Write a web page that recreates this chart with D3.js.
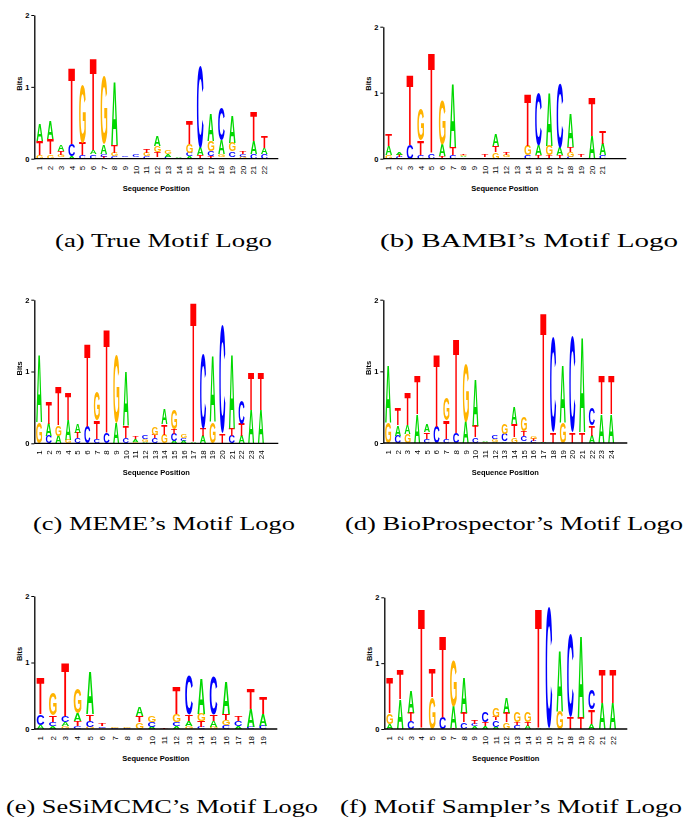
<!DOCTYPE html>
<html>
<head>
<meta charset="utf-8">
<script src="https://cdn.jsdelivr.net/npm/d3@7"></script>
<style>
  body { margin: 0; background: #fff; }
</style>
</head>
<body>
<svg id="fig"></svg>
<script>
// motif logos: each position is a stack of [base, bits], bottom to top
var logoTrue = [
  [["G",.05],["T",.19],["A",.23]],
  [["G",.06],["T",.21],["A",.25]],
  [["C",.02],["G",.03],["T",.06],["A",.08]],
  [["A",.03],["C",.17],["T",1.06]],
  [["C",.05],["T",.17],["G",.81]],
  [["C",.06],["A",.06],["T",1.29]],
  [["T",.03],["C",.04],["A",.13],["G",.95]],
  [["C",.03],["G",.05],["T",.11],["A",.88]],
  [["G",.02],["C",.02]],
  [["G",.02],["C",.03]],
  [["C",.03],["G",.05],["T",.05]],
  [["C",.02],["T",.07],["G",.09],["A",.15]],
  [["C",.03],["A",.04],["G",.06]],
  [["G",.01],["A",.02]],
  [["A",.03],["C",.05],["G",.12],["T",.33]],
  [["T",.05],["A",.1],["C",1.14]],
  [["T",.03],["C",.07],["G",.15],["A",.38]],
  [["T",.02],["G",.04],["A",.2],["C",.46]],
  [["T",.02],["C",.08],["G",.12],["A",.38]],
  [["G",.03],["C",.04],["T",.03]],
  [["C",.07],["A",.18],["T",.41]],
  [["C",.07],["A",.08],["T",.16]]
];

var logoBambi = [
  [["G",.06],["A",.14],["T",.17]],
  [["C",.03],["T",.03],["A",.04]],
  [["C",.21],["T",1.06]],
  [["C",.05],["T",.22],["G",.48]],
  [["C",.08],["T",1.52]],
  [["T",.04],["A",.18],["G",.68]],
  [["C",.06],["T",.12],["A",.96]],
  [["C",.02],["A",.02],["G",.02],["T",.02]],
  [],
  [["C",.02],["T",.03]],
  [["G",.1],["T",.1],["A",.18]],
  [["C",.02],["G",.03],["T",.03]],
  [],
  [["C",.05],["G",.15],["T",.79]],
  [["T",.05],["A",.15],["C",.8]],
  [["T",.05],["G",.15],["A",.8]],
  [["T",.05],["A",.12],["C",.97]],
  [["C",.03],["G",.07],["T",.08],["A",.52]],
  [["C",.02],["T",.03]],
  [["A",.35],["T",.58]],
  [["C",.05],["A",.17],["T",.2]]
];

var logoMeme = [
  [["G",.29],["A",.94]],
  [["C",.1],["A",.17],["T",.31]],
  [["A",.1],["G",.15],["T",.55]],
  [["G",.05],["A",.28],["T",.37]],
  [["C",.07],["T",.08],["A",.12]],
  [["C",.23],["T",1.15]],
  [["C",.06],["T",.26],["G",.4]],
  [["C",.15],["T",1.45]],
  [["A",.29],["G",.95]],
  [["C",.08],["T",.16],["A",.76]],
  [["G",.02],["A",.04],["T",.04]],
  [["A",.02],["G",.04],["C",.06]],
  [["C",.07],["T",.05],["G",.11]],
  [["G",.12],["T",.15],["A",.21]],
  [["A",.03],["C",.1],["T",.07],["G",.27]],
  [["A",.03],["C",.04],["G",.06]],
  [["A",.02],["T",1.96]],
  [["A",.1],["T",.1],["C",1.05]],
  [["G",.3],["A",.93]],
  [["T",.13],["C",1.51]],
  [["C",.1],["T",.1],["A",1.03]],
  [["A",.1],["T",.17],["C",.32]],
  [["A",.47],["T",.53]],
  [["A",.47],["T",.53]]
];

var logoBioPro = [
  [["G",.3],["A",.8]],
  [["C",.1],["A",.15],["T",.24]],
  [["G",.12],["A",.13],["T",.45]],
  [["A",.4],["T",.54]],
  [["C",.06],["T",.09],["A",.11]],
  [["C",.23],["T",1.01]],
  [["C",.06],["T",.25],["G",.31]],
  [["C",.14],["T",1.32]],
  [["A",.3],["G",.8]],
  [["C",.08],["T",.16],["A",.66]],
  [["G",.02],["A",.02]],
  [["A",.02],["G",.04],["C",.05]],
  [["A",.02],["C",.1],["G",.14]],
  [["G",.08],["T",.18],["A",.24]],
  [["A",.02],["C",.08],["T",.07],["G",.2]],
  [["C",.03],["T",.03],["G",.04]],
  [["A",.02],["T",1.81]],
  [["T",.15],["C",1.33]],
  [["G",.3],["A",.8]],
  [["T",.15],["C",1.34]],
  [["T",.15],["A",1.32]],
  [["A",.1],["T",.15],["C",.24]],
  [["A",.4],["T",.54]],
  [["A",.4],["T",.54]]
];

var logoSesi = [
  [["A",.06],["C",.16],["T",.55]],
  [["A",.04],["C",.06],["T",.1],["G",.34]],
  [["G",.04],["A",.06],["C",.1],["T",.8]],
  [["C",.04],["T",.08],["A",.11],["G",.38]],
  [["G",.03],["C",.09],["T",.1],["A",.65]],
  [["G",.02],["C",.02],["T",.03]],
  [["C",.01],["G",.01]],
  [["C",.02],["G",.02]],
  [["G",.1],["T",.1],["A",.14]],
  [["A",.03],["C",.07],["G",.1]],
  [["T",.02]],
  [["A",.04],["C",.06],["G",.12],["T",.4]],
  [["G",.04],["A",.08],["T",.09],["C",.59]],
  [["C",.03],["T",.09],["G",.11],["A",.52]],
  [["G",.03],["A",.09],["T",.1],["C",.58]],
  [["C",.06],["G",.07],["T",.09],["A",.48]],
  [["A",.04],["C",.08],["T",.07]],
  [["C",.03],["A",.27],["T",.31]],
  [["C",.05],["A",.18],["T",.26]]
];

var logoSampler = [
  [["A",.08],["G",.16],["T",.54]],
  [["A",.45],["T",.45]],
  [["C",.12],["T",.13],["A",.33]],
  [["A",.02],["T",1.82]],
  [["G",.48],["T",.44]],
  [["C",.17],["T",1.25]],
  [["T",.01],["A",.33],["G",.7]],
  [["C",.1],["T",.15],["A",.54]],
  [["A",.04],["C",.03],["T",.05]],
  [["A",.04],["T",.06],["C",.16]],
  [["A",.03],["C",.1],["T",.05],["G",.14]],
  [["G",.1],["T",.15],["A",.23]],
  [["C",.06],["T",.04],["G",.16]],
  [["A",.05],["T",.05],["G",.16]],
  [["A",.02],["T",1.82]],
  [["A",.02],["C",1.85]],
  [["G",.27],["A",.93]],
  [["T",.18],["C",1.25]],
  [["T",.17],["A",1.25]],
  [["A",.08],["T",.22],["C",.29]],
  [["A",.4],["T",.52]],
  [["A",.4],["T",.52]]
];

var captions = [
  "(a) True Motif Logo",
  "(b) BAMBI\u2019s Motif Logo",
  "(c) MEME\u2019s Motif Logo",
  "(d) BioProspector\u2019s Motif Logo",
  "(e) SeSiMCMC\u2019s Motif Logo",
  "(f) Motif Sampler\u2019s Motif Logo"
];
var bitTicks = [0, 1, 2];

var baseColor = { A: "#00d800", C: "#0000ff", G: "#ffb300", T: "#ff0000" };

// layout of the six panels (pixel positions)
var panels = [
  { data: logoTrue,    ox: 34.3,  y0: 158.7, y2: 15,    step: 10.7,  len: 244, cx: 163.5, cy: 247, cw: 217 },
  { data: logoBambi,   ox: 383.3, y0: 158.7, y2: 26.7,  step: 10.7,  len: 243, cx: 529,   cy: 247, cw: 298 },
  { data: logoMeme,    ox: 34.3,  y0: 443.3, y2: 299.7, step: 9.64,  len: 244, cx: 164,   cy: 530, cw: 262 },
  { data: logoBioPro,  ox: 383.3, y0: 443,   y2: 299.7, step: 9.7,   len: 244, cx: 514,   cy: 530, cw: 338 },
  { data: logoSesi,    ox: 34.3,  y0: 729,   y2: 596,   step: 12.37, len: 243, cx: 162,   cy: 813, cw: 312 },
  { data: logoSampler, ox: 384.3, y0: 729,   y2: 597.3, step: 10.63, len: 243, cx: 511,   cy: 813, cw: 342 }
];

var W = 685, H = 824;
var sans = "'Liberation Sans', Arial, sans-serif";

var svg = d3.select("#fig").attr("width", W).attr("height", H);
svg.append("rect").attr("width", W).attr("height", H).attr("fill", "#fff");

// a do-nothing filter: letters drawn through it get plain grey anti-aliasing
svg.append("defs").append("filter")
  .attr("id", "flat")
  .attr("x", "-5%").attr("y", "-5%").attr("width", "110%").attr("height", "110%")
  .append("feOffset").attr("dx", 0).attr("dy", 0);

// ink box of each glyph so the letters can be stretched to fill their cell
var ctx = document.createElement("canvas").getContext("2d");
ctx.font = "bold 100px " + sans;
var ink = {};
"ACGT".split("").forEach(function (L) {
  var m = ctx.measureText(L);
  ink[L] = { l: m.actualBoundingBoxLeft, r: m.actualBoundingBoxRight,
             a: m.actualBoundingBoxAscent, d: m.actualBoundingBoxDescent };
});

panels.forEach(function (p, pi) {
  var n = p.data.length;
  var positions = d3.range(1, n + 1);

  var x = d3.scaleBand()
    .domain(positions)
    .range([p.ox, p.ox + n * p.step])
    .paddingInner(0.38)
    .paddingOuter(0.19);

  var y = d3.scaleLinear()
    .domain([0, 2])
    .range([p.y0, p.y2]);

  var g = svg.append("g");

  // turn each stack into letter boxes
  var letters = [];
  p.data.forEach(function (stack, i) {
    var base = 0;
    stack.forEach(function (s) {
      letters.push({ pos: i + 1, base: s[0], lo: base, hi: base + s[1] });
      base += s[1];
    });
  });

  g.append("g")
    .attr("filter", "url(#flat)")
    .selectAll("text")
    .data(letters)
    .enter()
    .append("text")
    .text(function (d) { return d.base; })
    .attr("font-family", sans)
    .attr("font-weight", "bold")
    .attr("font-size", 100)
    .attr("fill", function (d) { return baseColor[d.base]; })
    .attr("transform", function (d) {
      var k = ink[d.base];
      var sx = x.bandwidth() / (k.l + k.r);
      var sy = (y(d.lo) - y(d.hi)) / (k.a + k.d);
      return "translate(" + x(d.pos) + "," + y(d.hi) + ") scale(" + sx + "," + sy +
             ") translate(" + k.l + "," + k.a + ")";
    });

  // y axis
  var ya = g.append("g")
    .attr("transform", "translate(" + p.ox + ",0)")
    .call(d3.axisLeft(y).tickValues(bitTicks).tickFormat(d3.format("d"))
      .tickSize(3).tickSizeOuter(0).tickPadding(2));
  ya.select(".domain").attr("stroke-width", 1.3);
  ya.selectAll("text").attr("font-family", sans).attr("font-size", 7.5).attr("font-weight", "bold");

  // x axis: position numbers rotated, long base line
  var xa = g.append("g")
    .attr("transform", "translate(0," + p.y0 + ")")
    .call(d3.axisBottom(x).tickSize(0));
  xa.select(".domain").remove();
  xa.selectAll("text")
    .attr("font-family", sans)
    .attr("font-size", 8)
    .attr("transform", "rotate(-90)")
    .attr("text-anchor", "end")
    .attr("x", -7)
    .attr("y", 0)
    .attr("dy", "0.35em");

  g.append("line")
    .attr("x1", p.ox).attr("x2", p.ox + p.len)
    .attr("y1", p.y0).attr("y2", p.y0)
    .attr("stroke", "#000").attr("stroke-width", 1.3);

  g.append("text")
    .attr("x", p.ox + p.len / 2)
    .attr("y", p.y0 + 32)
    .attr("text-anchor", "middle")
    .attr("font-family", sans)
    .attr("font-weight", "bold")
    .attr("font-size", 7.5)
    .text("Sequence Position");

  g.append("text")
    .attr("transform", "translate(" + (p.ox - 12) + "," + (p.y0 - 75) + ") rotate(-90)")
    .attr("text-anchor", "middle")
    .attr("font-family", sans)
    .attr("font-weight", "bold")
    .attr("font-size", 7.5)
    .text("Bits");

  // caption under the logo
  svg.append("text")
    .attr("x", p.cx)
    .attr("y", p.cy)
    .attr("text-anchor", "middle")
    .attr("font-family", "'Liberation Serif', 'Times New Roman', serif")
    .attr("font-size", 18.5)
    .attr("textLength", p.cw)
    .attr("lengthAdjust", "spacingAndGlyphs")
    .text(captions[pi]);
});
</script>
</body>
</html>
